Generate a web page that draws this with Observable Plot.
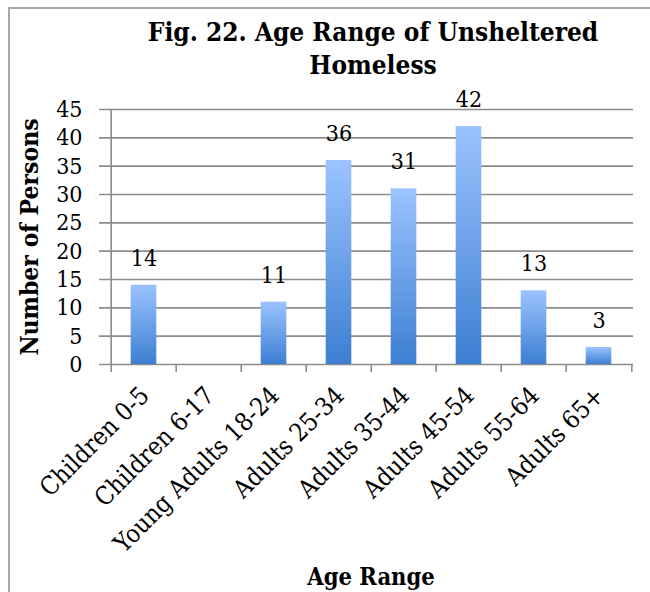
<!DOCTYPE html>
<html><head><meta charset="utf-8">
<script src="https://cdn.jsdelivr.net/npm/d3@7"></script>
<script src="https://cdn.jsdelivr.net/npm/@observablehq/plot@0.6"></script>
<style>
body{margin:0;background:#fff;}
#wrap{position:relative;width:650px;height:592px;overflow:hidden;background:#fff;}
#border{position:absolute;left:8px;top:7px;width:800px;height:800px;border:2px solid #a8a8a8;box-sizing:border-box;}
#chart{position:absolute;left:0;top:0;}
</style></head><body>
<div id="wrap"><div id="border"></div><div id="chart"></div></div>
<script>
const categories = ["Children 0-5","Children 6-17","Young Adults 18-24","Adults 25-34","Adults 35-44","Adults 45-54","Adults 55-64","Adults 65+"];
const values = [14, 0, 11, 36, 31, 42, 13, 3];
const yTicks = [0, 5, 10, 15, 20, 25, 30, 35, 40, 45];
const valueLabels = ["14", "", "11", "36", "31", "42", "13", "3"];
const titleText = "Fig. 22. Age Range of Unsheltered\nHomeless";
const yTitle = "Number of Persons";
const xTitle = "Age Range";

const data = categories.map((c, i) => ({category: c, value: values[i], label: valueLabels[i]}));
const W = 650, H = 592, mL = 108, mR = 17, mT = 109, mB = 228;
const plotW = W - mL - mR, plotH = H - mT - mB;
const bw = plotW / categories.length;
const font = "'DejaVu Serif Condensed', 'DejaVu Serif', serif";
const grid = "#8c8c8c";

const chart = Plot.plot({
  width: W, height: H,
  marginLeft: mL, marginRight: mR, marginTop: mT, marginBottom: mB,
  style: {fontFamily: font, fontStretch: "condensed", background: "transparent", color: "#000", overflow: "visible"},
  x: {domain: categories, padding: 0, axis: null},
  y: {domain: [0, 45], axis: null},
  marks: [
    Plot.ruleY(yTicks, {y: d => d, stroke: grid, strokeWidth: 1.6, insetLeft: -9}),
    Plot.barY(data, {x: "category", y: "value", fill: "url(#barGrad)", insetLeft: bw * 0.3, insetRight: bw * 0.3,
      style: "filter: drop-shadow(2px 1px 2px rgba(0,0,0,0.22))"}),
    Plot.ruleX([categories[0]], {x: d => d, dx: -bw / 2, stroke: grid, strokeWidth: 1.6}),
    Plot.ruleX(categories, {x: d => d, dx: -bw / 2, stroke: grid, strokeWidth: 1.6, insetTop: plotH, insetBottom: -8}),
    Plot.ruleX([categories[categories.length - 1]], {x: d => d, dx: bw / 2, stroke: grid, strokeWidth: 1.6, insetTop: plotH, insetBottom: -8}),
    Plot.axisY({ticks: yTicks, tickSize: 0, tickPadding: 26, fontSize: 23, label: null}),
    Plot.text(data, {x: "category", y: "value", text: "label", dy: -27, fontSize: 23}),
    Plot.text(categories, {x: d => d, y: () => 0, text: d => d, rotate: -45, textAnchor: "end", dx: 1, dy: 27, fontSize: 25}),
    Plot.text([titleText], {frameAnchor: "top", lineAnchor: "top", dy: -92, dx: 2, fontSize: 26, fontWeight: "bold", lineHeight: 1.27}),
    Plot.text([yTitle], {frameAnchor: "left", textAnchor: "middle", rotate: -90, dx: -78, fontSize: 24.5, fontWeight: "bold"}),
    Plot.text([xTitle], {frameAnchor: "bottom", dy: 220, fontSize: 23.5, fontWeight: "bold"})
  ]
});

const ns = "http://www.w3.org/2000/svg";
const defs = document.createElementNS(ns, "defs");
const grad = document.createElementNS(ns, "linearGradient");
grad.setAttribute("id", "barGrad");
grad.setAttribute("x1", "0"); grad.setAttribute("y1", "0");
grad.setAttribute("x2", "0"); grad.setAttribute("y2", "1");
[["0%", "#9bc3ff"], ["100%", "#3d7fd2"]].forEach(([o, c]) => {
  const s = document.createElementNS(ns, "stop");
  s.setAttribute("offset", o); s.setAttribute("stop-color", c);
  grad.appendChild(s);
});
defs.appendChild(grad);
chart.insertBefore(defs, chart.firstChild);
document.getElementById("chart").appendChild(chart);
</script>
</body></html>
